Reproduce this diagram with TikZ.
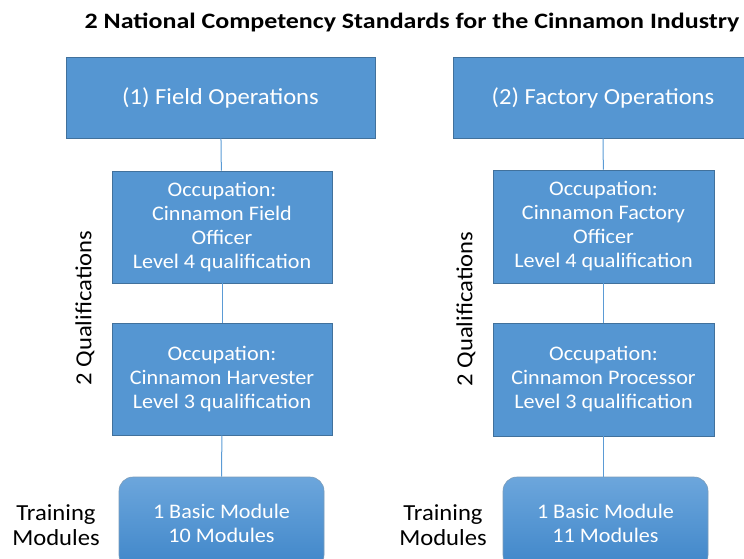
\documentclass[tikz,border=0pt]{standalone}
\usepackage{fontspec}
\setmainfont{Carlito}[FakeStretch=1.07]
\newfontfamily\headfont{Carlito}[FakeStretch=1.18]
\definecolor{boxblue}{HTML}{5596D2}
\definecolor{boxedge}{HTML}{41719C}
\definecolor{linkblue}{HTML}{5B9BD5}
\definecolor{modtop}{HTML}{6CA6DC}
\definecolor{modbot}{HTML}{3F86C9}
\tikzset{
	stdbox/.style={rectangle,fill=boxblue,draw=boxedge,line width=0.8pt,text=white,align=center,inner sep=0pt},
	modbox/.style={rectangle,rounded corners=14pt,top color=modtop,bottom color=modbot,draw=boxedge!70,line width=0.6pt,text=white,align=center,inner sep=0pt},
	link/.style={draw=linkblue,line width=1pt},
	boxtext/.style={font=\fontsize{20.7}{24}\selectfont},
	sidetext/.style={font=\fontsize{23}{25}\selectfont,align=center,inner sep=0pt}
}
\begin{document}
\begin{tikzpicture}[x=1pt,y=-1pt]
\useasboundingbox (0,0) rectangle (744,558);
\node[font=\headfont\bfseries\fontsize{22}{24}\selectfont] (title) at (412,22) {2 National Competency Standards for the Cinnamon Industry};
% field side
\node[stdbox,minimum width=309pt,minimum height=81pt,font=\fontsize{23}{26}\selectfont] (field) at (220.5,97.5) {(1) Field Operations};
\node[stdbox,boxtext,minimum width=220pt,minimum height=112pt] (officerF) at (222,227) {Occupation:\\Cinnamon Field\\Officer\\Level 4 qualification};
\node[stdbox,boxtext,minimum width=220pt,minimum height=112pt] (harvester) at (222,379) {Occupation:\\Cinnamon Harvester\\Level 3 qualification};
\node[modbox,boxtext,minimum width=205pt,minimum height=92pt] (modF) at (221.5,523) {1 Basic Module\\10 Modules};
\draw[link] (field) -- (officerF);
\draw[link] (officerF) -- (harvester);
\draw[link] (harvester) -- (modF);
\node[sidetext,rotate=90] (qualF) at (85,308) {2 Qualifications};
\node[sidetext] (trainF) at (56,525) {Training\\Modules};
% factory side
\node[stdbox,minimum width=300pt,minimum height=81pt,font=\fontsize{23}{26}\selectfont] (factory) at (603,97.5) {(2) Factory Operations};
\node[stdbox,boxtext,minimum width=221pt,minimum height=113pt] (officerP) at (603.5,226.5) {Occupation:\\Cinnamon Factory\\Officer\\Level 4 qualification};
\node[stdbox,boxtext,minimum width=221pt,minimum height=113pt] (processor) at (603.5,379.5) {Occupation:\\Cinnamon Processor\\Level 3 qualification};
\node[modbox,boxtext,minimum width=205pt,minimum height=92pt] (modP) at (605.5,523) {1 Basic Module\\11 Modules};
\draw[link] (factory) -- (officerP);
\draw[link] (officerP) -- (processor);
\draw[link] (processor.south) -- (modP.north -| processor.south);
\node[sidetext,rotate=90] (qualP) at (466,309) {2 Qualifications};
\node[sidetext] (trainP) at (443,525) {Training\\Modules};
\end{tikzpicture}
\end{document}
